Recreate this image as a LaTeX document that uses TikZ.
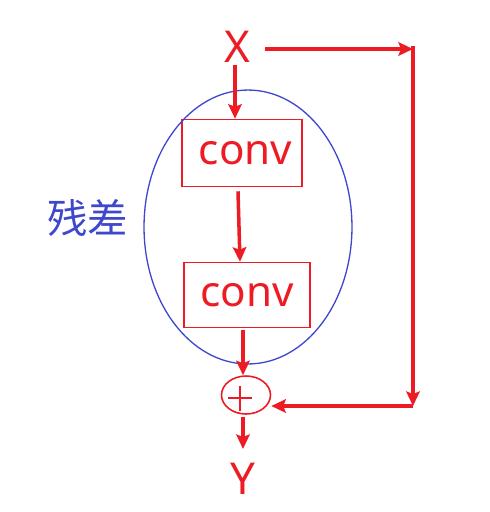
\documentclass[tikz,border=0pt]{standalone}
\usepackage{fontspec}
\setmainfont{Noto Sans}
\newfontfamily\cjk{Noto Sans CJK SC}
\usetikzlibrary{arrows.meta,shapes.geometric}
\definecolor{pred}{RGB}{237,28,36}
\definecolor{pblue}{RGB}{63,72,204}
\begin{document}
\begin{tikzpicture}[x=0.02cm, y=-0.02cm, >={Stealth[length=2.9mm,width=2.7mm,inset=0.5mm]},
    lbl/.style={text=pred, inner sep=0pt, font=\fontsize{25}{30}\selectfont},
    convbox/.style={draw=pred, line width=0.9pt, rectangle, text=pred, font=\fontsize{24}{28}\selectfont},
    link/.style={draw=pred, line width=2pt}]

    \useasboundingbox (0,0) rectangle (490,512);

    % Nodes
    \node[lbl] (X) at (237,47) {X};
    \node[convbox, minimum width=2.4cm, minimum height=1.34cm] (c1) at (242,153) {\,conv};
    \node[convbox, minimum width=2.52cm, minimum height=1.3cm] (c2) at (247,295) {conv};
    \node[ellipse, draw=pblue, line width=0.75pt, minimum width=4.16cm, minimum height=5.48cm] (res) at (248,227) {};
    \node[text=pblue, font=\cjk\fontsize{23}{28}\selectfont, inner sep=0pt] (lab) at (88,218) {残差};
    \node[ellipse, draw=pred, line width=0.9pt, minimum width=0.98cm, minimum height=0.76cm, inner sep=0pt] (plus) at (246,395) {};
    \node[lbl] (Y) at (243,479) {Y};
    \coordinate (tr) at (413,49);
    \coordinate (br) at (413,406);

    % plus sign
    \draw[pred, line width=0.9pt] (240,386) -- (240,411) (228,398) -- (252,398);

    % Connections
    \draw[link, ->] (X.south -| 235,0) ++(0,2) -- (c1.north -| 235,0);
    \draw[link, ->] (c1.south -| 238,0) ++(0,4) -- (c2.north -| 240,0);
    \draw[link, ->] (c2.south -| 243,0) ++(0,2) -- (plus.north -| 243,0);
    \draw[link, ->] (plus.south -| 243,0) ++(0,2) -- ([yshift=0.28cm]Y.north -| 243,0);
    \draw[link, ->] ([xshift=0.3cm]X.east |- tr) -- (tr);
    \draw[link, ->] ([yshift=0.06cm]tr) -- (br);
    \draw[link, ->] (br) -- (plus.east |- br);
\end{tikzpicture}
\end{document}
